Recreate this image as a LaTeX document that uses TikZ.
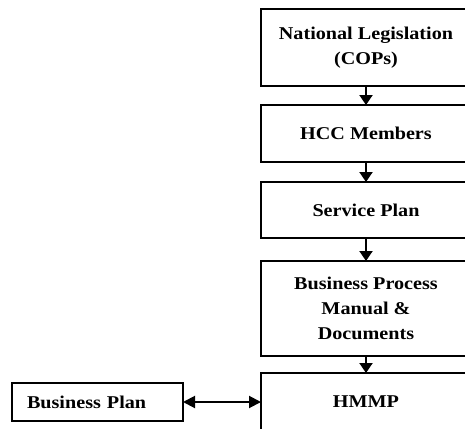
\documentclass[tikz,border=0pt]{standalone}
\usepackage{fontspec}
\setmainfont{Liberation Serif}[FakeStretch=1.12]
\usepackage{tikz}
\usetikzlibrary{positioning}
\usetikzlibrary{arrows.meta}

\begin{document}
\begin{tikzpicture}[x=1pt,y=-1pt,
  box/.style={draw,line width=2.6pt,outer sep=0pt,minimum width=210pt,align=center,
    font=\fontsize{18}{25}\selectfont\bfseries},
  node distance=20pt]
  \useasboundingbox (0,0) rectangle (465,428);
  \clip (0,0) rectangle (465,428);
  \node[box,minimum height=77pt] (law) at (366,47.5) {National Legislation\\(COPs)};
  \node[box,minimum height=57pt,below=19pt of law] (hcc) {HCC Members};
  \node[box,minimum height=56pt,below=20pt of hcc] (service) {Service Plan};
  \node[box,minimum height=95pt,below=23pt of service] (manual) {Business Process\\Manual \&\\Documents};
  \node[box,minimum height=58pt,below=17pt of manual] (hmmp) {HMMP};
  \node[box,line width=2.2pt,minimum width=0pt,minimum height=38pt,text width=141pt,
    inner xsep=15pt,align=left,left=78pt of hmmp] (bplan) {Business Plan};
  \path[line width=2pt,-{Triangle[width=13pt,length=10pt]}]
    (law) edge (hcc)
    (hcc) edge (service)
    (service) edge (manual)
    (manual) edge (hmmp);
  \draw[line width=2pt,{Triangle[width=12pt,length=12pt]}-{Triangle[width=12pt,length=12pt]}]
    (bplan) -- (hmmp);
\end{tikzpicture}
\end{document}
